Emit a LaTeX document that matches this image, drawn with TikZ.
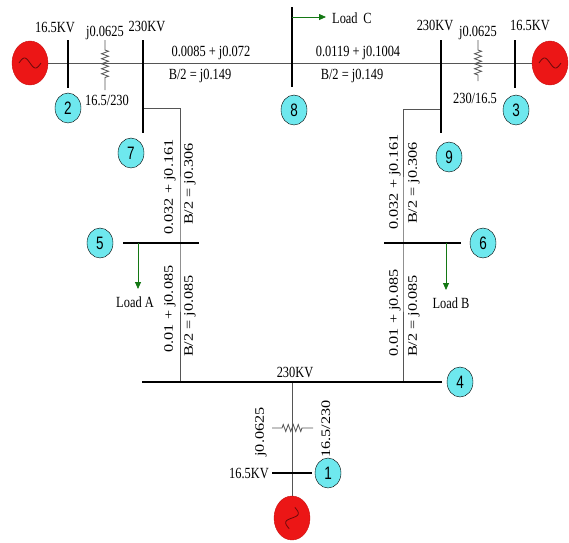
\documentclass[tikz,border=0pt]{standalone}
\usepackage{fontspec}
\usepackage{tikz}
\usetikzlibrary{shapes.geometric}
\usetikzlibrary{arrows.meta, decorations.pathmorphing}
\newfontfamily\lblfont[FakeStretch=0.8]{Liberation Serif}
\newfontfamily\rotfont[FakeStretch=1.25]{Liberation Serif}
\newfontfamily\numfont[FakeStretch=0.75]{Liberation Sans}
\definecolor{buscyan}{RGB}{110,232,238}
\definecolor{genred}{RGB}{236,22,22}
\definecolor{loadgreen}{RGB}{20,120,20}
\definecolor{wiregray}{RGB}{85,85,85}

\tikzset{
  wire/.style={draw=wiregray, line width=0.8pt},
  busbar/.style={line width=2.4pt},
  busno/.style={draw, ellipse, fill=buscyan, minimum width=26pt, minimum height=30pt, inner sep=0pt, font=\numfont\fontsize{18}{18}\selectfont},
  genbody/.style={ellipse, fill=genred, draw=genred!85!black, minimum width=36pt, minimum height=44pt, inner sep=0pt},
  wave/.style={draw=genred!45!black, line width=0.8pt},
  lbl/.style={inner sep=1pt, font=\lblfont\fontsize{15.5}{17}\selectfont},
  rlbl/.style={inner sep=1pt, rotate=90, font=\rotfont\fontsize{13}{15}\selectfont},
  load/.style={draw=loadgreen, line width=0.8pt, -{Triangle[length=7pt,width=6pt]}},
  zz/.style={decoration={zigzag, segment length=5pt, amplitude=3.5pt}},
  gen/.pic={
    \node[genbody] (-body) {};
    \draw[wave] plot[domain=-11:11, samples=41, smooth] (\x, {5*sin(16.36*\x)});
  }
}

\begin{document}
\begin{tikzpicture}[x=1pt, y=-1pt]
\useasboundingbox (0,0) rectangle (569,542);
% generators
\pic (g2) at (30,63) {gen};
\pic (g3) at (550,63) {gen};
\pic[rotate=75] (g1) at (292,518) {gen};
% bus bars
\coordinate (b2t) at (68,40);   \coordinate (b2b) at (68,88);
\coordinate (b7t) at (143,40);  \coordinate (b7b) at (143,133);
\coordinate (b8t) at (292,7);   \coordinate (b8b) at (292,87);
\coordinate (b9t) at (441,40);  \coordinate (b9b) at (441,133);
\coordinate (b3t) at (515,40);  \coordinate (b3b) at (515,88);
\coordinate (b5l) at (123,243); \coordinate (b5r) at (199,243);
\coordinate (b6l) at (384,243); \coordinate (b6r) at (461,243);
\coordinate (b4l) at (142,382); \coordinate (b4r) at (442,382);
\coordinate (b1l) at (272,473); \coordinate (b1r) at (312,473);
% tap points
\coordinate (b7o) at (143,108); \coordinate (b5o) at (180,243); \coordinate (b4o) at (180,382);
\coordinate (b9o) at (441,109); \coordinate (b6o) at (403,243); \coordinate (b4p) at (403,382);
\coordinate (b4m) at (292,382);
% transformers
\coordinate (t2t) at (105,40);  \coordinate (t2a) at (105,50);  \coordinate (t2b) at (105,78);  \coordinate (t2d) at (105,90);
\coordinate (t3t) at (478,40);  \coordinate (t3a) at (478,50);  \coordinate (t3b) at (478,75);  \coordinate (t3d) at (478,81);
\coordinate (t1l) at (272,428); \coordinate (t1a) at (282,428); \coordinate (t1b) at (303,428); \coordinate (t1r) at (313,428);

\draw[wire] (g2-body) -- (g3-body);
\draw[wire] (b7o) -| (b5o) -- (b4o);
\draw[wire] (b9o) -| (b6o) -- (b4p);
\draw[wire] (b4m) -- (g1-body);
\draw[wire] (t2t) -- (t2a) decorate[zz]{-- (t2b)} -- (t2d);
\draw[wire] (t3t) -- (t3a) decorate[zz]{-- (t3b)} -- (t3d);
\draw[wire] (t1l) -- (t1a) decorate[zz]{-- (t1b)} -- (t1r);

\draw[busbar] (b2t) -- (b2b);
\draw[busbar] (b7t) -- (b7b);
\draw[busbar] (b8t) -- (b8b);
\draw[busbar] (b9t) -- (b9b);
\draw[busbar] (b3t) -- (b3b);
\draw[busbar] (b5l) -- (b5r);
\draw[busbar] (b6l) -- (b6r);
\draw[busbar] (b4l) -- (b4r);
\draw[busbar] (b1l) -- (b1r);

% loads
\coordinate (lc0) at (292,17); \coordinate (lc1) at (326,17);
\coordinate (la0) at (138,243); \coordinate (la1) at (138,289);
\coordinate (lb0) at (446,243); \coordinate (lb1) at (446,290);
\draw[load] (lc0) -- (lc1);
\draw[load] (la0) -- (la1);
\draw[load] (lb0) -- (lb1);
\node[lbl, anchor=west] (loadC) at (331,18) {Load\ \,C};
\node[lbl] (loadA) at (135,302) {Load A};
\node[lbl] (loadB) at (451,303) {Load B};

% bus numbers
\node[busno] (n1) at (328,473) {1};
\node[busno] (n2) at (68,108) {2};
\node[busno] (n3) at (516,110) {3};
\node[busno] (n4) at (460,382) {4};
\node[busno] (n5) at (100,243) {5};
\node[busno] (n6) at (483,243) {6};
\node[busno] (n7) at (131,153) {7};
\node[busno] (n8) at (294,110) {8};
\node[busno] (n9) at (449,157) {9};

% voltages and transformer data
\node[lbl] (kv2) at (55,27) {16.5KV};
\node[lbl] (kv7) at (147,26) {230KV};
\node[lbl] (kv9) at (435,25) {230KV};
\node[lbl] (kv3) at (530,25) {16.5KV};
\node[lbl] (kv4) at (295,372) {230KV};
\node[lbl, anchor=east] (kv1) at (270,473) {16.5KV};
\node[lbl] (x27) at (105,33) {j0.0625};
\node[lbl] (r27) at (107,100) {16.5/230};
\node[lbl] (x93) at (478,33) {j0.0625};
\node[lbl] (r93) at (475,98) {230/16.5};
\node[rlbl] (x14) at (261,432) {j0.0625};
\node[rlbl] (r14) at (326,429) {16.5/230};

% line data
\node[lbl] (z78) at (211,53) {0.0085 + j0.072};
\node[lbl] (y78) at (200,76) {B/2 = j0.149};
\node[lbl] (z89) at (358,53) {0.0119 + j0.1004};
\node[lbl] (y89) at (352,76) {B/2 = j0.149};
\node[rlbl] (z75) at (170,187) {0.032 + j0.161};
\node[rlbl] (y75) at (190,184) {B/2 = j0.306};
\node[rlbl] (z54) at (170,309) {0.01 + j0.085};
\node[rlbl] (y54) at (190,316) {B/2 = j0.085};
\node[rlbl] (z96) at (395,182) {0.032 + j0.161};
\node[rlbl] (y96) at (414,183) {B/2 = j0.306};
\node[rlbl] (z64) at (395,313) {0.01 + j0.085};
\node[rlbl] (y64) at (414,316) {B/2 = j0.085};
\end{tikzpicture}
\end{document}
